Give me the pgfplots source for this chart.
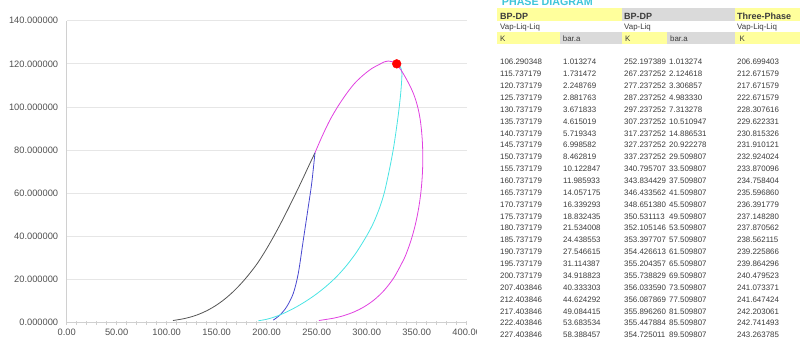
\documentclass[border=0pt]{standalone}
\usepackage{pgfplots}
\pgfplotsset{compat=1.18}
\usepackage{fontspec}
\setmainfont{Liberation Sans}
\definecolor{gridc}{HTML}{E6E6E6}
\definecolor{axc}{HTML}{D0D0D0}
\definecolor{labc}{HTML}{505050}
\definecolor{tabc}{HTML}{3C3C3C}
\definecolor{ylw}{HTML}{FFFF9C}
\definecolor{gry}{HTML}{DADADA}
\definecolor{ttl}{HTML}{3FC6DA}
\definecolor{cblack}{HTML}{555555}
\definecolor{cblue}{HTML}{4848D0}
\definecolor{ccyan}{HTML}{4AE4E4}
\definecolor{cmag}{HTML}{E040E0}

\begin{document}
\begin{tikzpicture}
\path[use as bounding box] (0pt,0pt) rectangle (800pt,341pt);
\begin{axis}[
  at={(66.7pt,18.3pt)}, anchor=south west,
  scale only axis, width=400pt, height=302pt,
  xmin=0, xmax=400, ymin=0, ymax=140,
  axis x line*=bottom, axis y line*=left,
  axis line style={draw=axc, line width=0.75pt},
  xtick={0,50,...,400},
  xticklabels={0.00,50.00,100.00,150.00,200.00,250.00,300.00,350.00,400.00},
  ytick={0,20,...,140},
  yticklabels={0.000000,20.000000,40.000000,60.000000,80.000000,100.000000,120.000000,140.000000},
  minor x tick num=4,
  tick align=center,
  major tick length=4pt, minor tick length=4pt,
  xtick style={draw=axc, line width=0.6pt},
  ytick style={draw=none},
  ymajorgrids, grid style={draw=gridc, line width=0.75pt},
  tick label style={font=\fontsize{9.3}{11}\selectfont, text=labc},
  yticklabel style={xshift=-3pt},
  xticklabel style={yshift=-1pt},
  clip=false,
]
% BP-DP Vap-Liq-Liq
\addplot[cblack, line width=0.8pt, smooth] coordinates {
(106.290348,1.013274)(115.737179,1.731472)(120.737179,2.248769)(125.737179,2.881763)
(130.737179,3.671833)(135.737179,4.615019)(140.737179,5.719343)(145.737179,6.998582)
(150.737179,8.462819)(155.737179,10.122847)(160.737179,11.985933)(165.737179,14.057175)
(170.737179,16.339293)(175.737179,18.832435)(180.737179,21.534008)(185.737179,24.438553)
(190.737179,27.546615)(195.737179,31.114387)(200.737179,34.918823)(207.403846,40.333303)
(212.403846,44.624292)(217.403846,49.084415)(222.403846,53.683534)(227.403846,58.388457)
(232.403846,63.163255)(237.4,68.05)(242.4,73.05)(248.3,78.8)};
% Three-phase
\addplot[cblue, line width=0.8pt, smooth] coordinates {
(206.6,1.2)(213.3,3.6)(220,7.4)(226.6,13.6)(231.6,22.9)(236.6,38.3)(241.6,53.8)(245,64.6)(248.3,78.8)};
% cyan
\addplot[ccyan, line width=0.8pt, smooth] coordinates {
(191.6,0.9)(200,1.6)(210,3.0)(220,5.0)(230,7.4)(240,10.2)(250,13.4)(260,17.1)(270,21.4)
(280,26.6)(290,32.8)(300,40.3)(307,46.5)(313.3,53.8)(318,61)(323.3,72.3)(327,81.5)
(330,90.9)(332.3,99)(334,106.3)(335,112.5)(335.2,115.6)(334.4,117.8)(333,119.2)(331.5,119.9)};
% BP-DP Vap-Liq
\addplot[cmag, line width=0.8pt, smooth] coordinates {
(252.197389,1.013274)(267.237252,2.124618)(277.237252,3.306857)(287.237252,4.983330)
(297.237252,7.313278)(307.237252,10.510947)(317.237252,14.886531)(327.237252,20.922278)
(337.237252,29.509807)(340.795707,33.509807)(343.834429,37.509807)(346.433562,41.509807)
(348.651380,45.509807)(350.531113,49.509807)(352.105146,53.509807)(353.397707,57.509807)
(354.426613,61.509807)(355.204357,65.509807)(355.738829,69.509807)(356.033590,73.509807)
(356.087869,77.509807)(355.896260,81.509807)(355.447884,85.509807)(354.725011,89.509807)
(353.700642,93.509807)(352.0,98)(349.5,102.5)(346.5,106.5)(343,110)(339,113.5)(334.5,117)
(329.5,119.9)(325.5,121)(321.6,121.3)(317,120.8)(313.3,119.9)(305,117.8)(296.6,114.8)
(288,111)(280,106.3)(271.5,100.5)(263.3,94)(255.5,86.5)(248.3,78.8)};
% critical point
\addplot[only marks, mark=*, mark size=4.4pt, color=red, mark options={draw=red, fill=red}] coordinates {(330,120)};
\end{axis}

\begin{scope}[x=1pt,y=-1pt,shift={(0pt,341pt)}]
\fill[white] (476.5,-10) rectangle (810,351);
% header fills
\fill[ylw] (496.7,8.3) rectangle (621.7,20.7);
\fill[gry] (621.7,8.3) rectangle (735,20.7);
\fill[ylw] (735,8.3) rectangle (800,20.7);
\fill[ylw] (496.7,32.3) rectangle (560,44);
\fill[gry] (560,32.3) rectangle (621.7,44);
\fill[ylw] (621.7,32.3) rectangle (666.7,44);
\fill[gry] (666.7,32.3) rectangle (735,44);
\fill[ylw] (735,32.3) rectangle (800,44);
\node[anchor=base west, inner sep=0, text=ttl, font=\fontsize{10.7}{12}\selectfont\bfseries] at (501.7,5.5) {PHASE DIAGRAM};
\begin{scope}[every node/.style={anchor=base west, inner sep=0, text=tabc, font=\fontsize{9}{11}\selectfont\bfseries}]
\node at (500,19) {BP-DP};
\node at (624,19) {BP-DP};
\node at (737,19) {Three-Phase};
\end{scope}
\begin{scope}[every node/.style={anchor=base west, inner sep=0, text=tabc, font=\fontsize{7.9}{9}\selectfont}]
\node at (500,29) {Vap-Liq-Liq};
\node at (624,29) {Vap-Liq};
\node at (737,29) {Vap-Liq-Liq};
\node at (500,41.5) {K};
\node at (562.7,41.5) {bar.a};
\node at (625,41.5) {K};
\node at (670,41.5) {bar.a};
\node at (739.3,41.5) {K};
\foreach \a/\b/\c/\d/\e [count=\i from 0] in {
106.290348/1.013274/252.197389/1.013274/206.699403,
115.737179/1.731472/267.237252/2.124618/212.671579,
120.737179/2.248769/277.237252/3.306857/217.671579,
125.737179/2.881763/287.237252/4.983330/222.671579,
130.737179/3.671833/297.237252/7.313278/228.307616,
135.737179/4.615019/307.237252/10.510947/229.622331,
140.737179/5.719343/317.237252/14.886531/230.815326,
145.737179/6.998582/327.237252/20.922278/231.910121,
150.737179/8.462819/337.237252/29.509807/232.924024,
155.737179/10.122847/340.795707/33.509807/233.870096,
160.737179/11.985933/343.834429/37.509807/234.758404,
165.737179/14.057175/346.433562/41.509807/235.596860,
170.737179/16.339293/348.651380/45.509807/236.391779,
175.737179/18.832435/350.531113/49.509807/237.148280,
180.737179/21.534008/352.105146/53.509807/237.870562,
185.737179/24.438553/353.397707/57.509807/238.562115,
190.737179/27.546615/354.426613/61.509807/239.225866,
195.737179/31.114387/355.204357/65.509807/239.864296,
200.737179/34.918823/355.738829/69.509807/240.479523,
207.403846/40.333303/356.033590/73.509807/241.073371,
212.403846/44.624292/356.087869/77.509807/241.647424,
217.403846/49.084415/355.896260/81.509807/242.203061,
222.403846/53.683534/355.447884/85.509807/242.741493,
227.403846/58.388457/354.725011/89.509807/243.263785,
232.403846/63.163255/353.700642/93.509807/243.770883}{
  \node at (500,{64.8+11.87*\i}) {\a};
  \node at (563,{64.8+11.87*\i}) {\b};
  \node at (624,{64.8+11.87*\i}) {\c};
  \node at (669,{64.8+11.87*\i}) {\d};
  \node at (737,{64.8+11.87*\i}) {\e};
}
\end{scope}
\end{scope}
\end{tikzpicture}
\end{document}
